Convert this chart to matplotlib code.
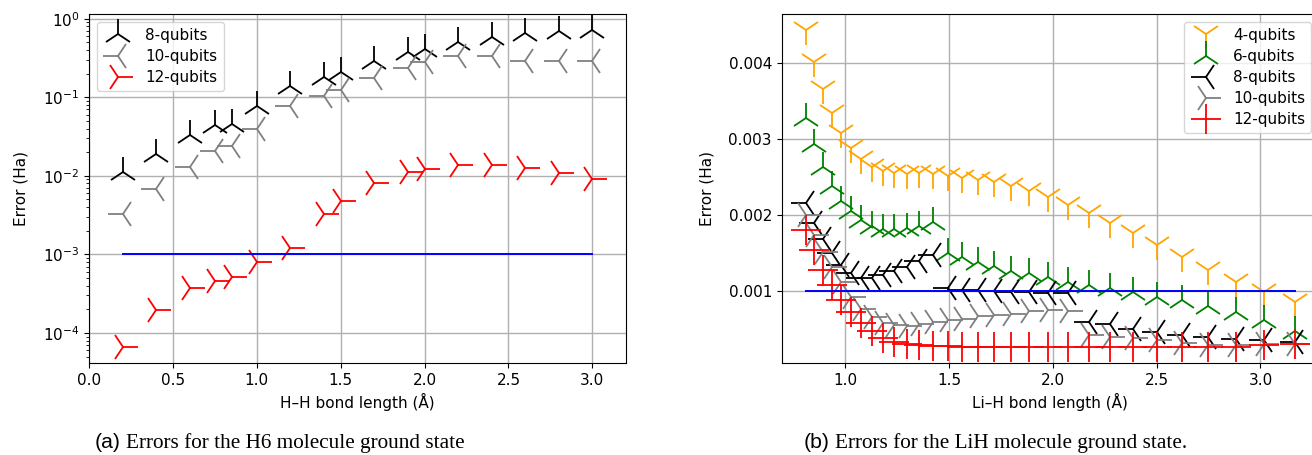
import matplotlib
matplotlib.use("Agg")
import matplotlib.pyplot as plt

# H6 molecule, bond length (A) and error (Ha)
h6_x = [0.2, 0.4, 0.6, 0.75, 0.85, 1.0, 1.2, 1.4, 1.5, 1.7, 1.9, 2.0, 2.2, 2.4, 2.6, 2.8, 3.0]
h6_q8 = [0.0111, 0.019, 0.0326, 0.044, 0.045, 0.077, 0.137, 0.18, 0.21, 0.29,
         0.378, 0.41, 0.507, 0.587, 0.653, 0.687, 0.72]
h6_q10 = [0.0033, 0.0068, 0.0131, 0.0204, 0.0243, 0.039, 0.0776, 0.104, 0.124, 0.178,
          0.239, 0.277, 0.336, 0.33, 0.29, 0.29, 0.29]
h6_q12 = [6.6e-5, 1.96e-4, 3.7e-4, 4.6e-4, 5.1e-4, 8.1e-4, 1.19e-3, 3.3e-3, 4.8e-3, 8.2e-3,
          0.0113, 0.0123, 0.0139, 0.0139, 0.0124, 0.0109, 0.0092]

# LiH molecule
lih_x = [0.812, 0.852, 0.892, 0.935, 0.981, 1.029, 1.077, 1.128, 1.181, 1.237,
         1.297, 1.358, 1.422, 1.493, 1.564, 1.639, 1.719, 1.800, 1.884, 1.976,
         2.072, 2.172, 2.276, 2.384, 2.501, 2.623, 2.747, 2.880, 3.015, 3.164]
lih_q4 = [0.004434, 0.004017, 0.003654, 0.003338, 0.003075, 0.002878, 0.002733, 0.002636,
          0.002583, 0.002549, 0.00254, 0.002549, 0.00254, 0.002515, 0.002483, 0.00246,
          0.002438, 0.002382, 0.00232, 0.002241, 0.002132, 0.002022, 0.001899, 0.001759,
          0.001605, 0.001451, 0.001276, 0.001122, 0.00099, 0.000859]
lih_q6 = [0.003272, 0.002928, 0.002636, 0.002382, 0.002191, 0.002053, 0.001941, 0.001862,
          0.001822, 0.001816, 0.001829, 0.001855, 0.001908, 0.001504, 0.001451, 0.001386,
          0.001333, 0.001268, 0.001233, 0.001188, 0.00112, 0.00108, 0.00104, 0.00099,
          0.00093, 0.00088, 0.00081, 0.00073, 0.00062, 0.00048]
lih_q8 = [0.002154, 0.001899, 0.00168, 0.001496, 0.001342, 0.001233, 0.00118, 0.00118,
          0.00121, 0.001267, 0.00132, 0.001399, 0.001474, 0.00104, 0.001022, 0.001013,
          0.001, 0.00099, 0.00099, 0.00097, 0.00097, 0.000596, 0.000566, 0.000509,
          0.000465, 0.000421, 0.000399, 0.000377, 0.000364, 0.000333]
lih_q10 = [0.002, 0.001737, 0.001517, 0.00132, 0.001122, 0.000925, 0.000772, 0.000662,
           0.000583, 0.000553, 0.00054, 0.000566, 0.000596, 0.000618, 0.000636, 0.000671,
           0.000684, 0.000706, 0.00074, 0.00075, 0.00074, 0.00042, 0.0004, 0.00039,
           0.000364, 0.00032, 0.00029, 0.00029, 0.0003, 0.00031]
lih_q12 = [0.001803, 0.00154, 0.001276, 0.001079, 0.00089, 0.000728, 0.000583, 0.000478,
           0.000391, 0.000333, 0.000303, 0.00029, 0.00028, 0.000276, 0.00027, 0.000268,
           0.000267, 0.000267, 0.000267, 0.000267, 0.000267, 0.000267, 0.000267, 0.000267,
           0.000265, 0.000265, 0.000267, 0.00027, 0.000299, 0.000303]

chem_acc = 1e-3
ms = 22
mew = 1.3

plt.rcParams['font.size'] = 11
plt.rcParams['grid.linewidth'] = 1.0
fig = plt.figure(figsize=(13.12, 4.55), dpi=100)

ax1 = fig.add_axes([0.0678, 0.2022, 0.4093, 0.767])
ax1.plot(h6_x, h6_q8, '2', color='k', ms=ms, mew=mew, label='8-qubits')
ax1.plot(h6_x, h6_q10, '3', color='gray', ms=ms, mew=mew, label='10-qubits')
ax1.plot(h6_x, h6_q12, '4', color='r', ms=ms, mew=mew, label='12-qubits')
ax1.plot([h6_x[0], h6_x[-1]], [chem_acc, chem_acc], color='b', lw=1.4)
ax1.set_yscale('log')
ax1.set_xlim(0, 3.2)
ax1.grid(True)
ax1.set_xlabel('H\u2013H bond length (\u00c5)')
ax1.set_ylabel('Error (Ha)', labelpad=10)
ax1.legend(loc='upper left', labelspacing=0.4)

# right panel runs slightly past the figure edge, as in the source
ax2 = fig.add_axes([0.5958, 0.2022, 0.4095, 0.767])
ax2.plot(lih_x, lih_q4, '1', color='orange', ms=ms, mew=mew, label='4-qubits')
ax2.plot(lih_x, lih_q6, '2', color='green', ms=ms, mew=mew, label='6-qubits')
ax2.plot(lih_x, lih_q8, '3', color='k', ms=ms, mew=mew, label='8-qubits')
ax2.plot(lih_x, lih_q10, '4', color='gray', ms=ms, mew=mew, label='10-qubits')
ax2.plot(lih_x, lih_q12, '+', color='r', ms=ms, mew=mew, label='12-qubits')
ax2.plot([lih_x[0], lih_x[-1]], [chem_acc, chem_acc], color='b', lw=1.4)
ax2.grid(True)
ax2.set_xlabel('Li\u2013H bond length (\u00c5)')
ax2.set_ylabel('Error (Ha)', labelpad=10)
ax2.legend(loc='upper right', labelspacing=0.4)


def caption(x, tag, rest):
    t = fig.text(x, 0.0154, tag, family='Liberation Sans', fontsize=15.3, va='baseline')
    fig.canvas.draw()
    bb = t.get_window_extent().transformed(fig.transFigure.inverted())
    fig.text(bb.x1 + 0.004, 0.0154, rest, family='Liberation Serif', fontsize=15.3,
             va='baseline')


caption(0.0724, '(a)', 'Errors for the H6 molecule ground state')
caption(0.6128, '(b)', 'Errors for the LiH molecule ground state.')

fig.savefig('out.png', dpi=100)
